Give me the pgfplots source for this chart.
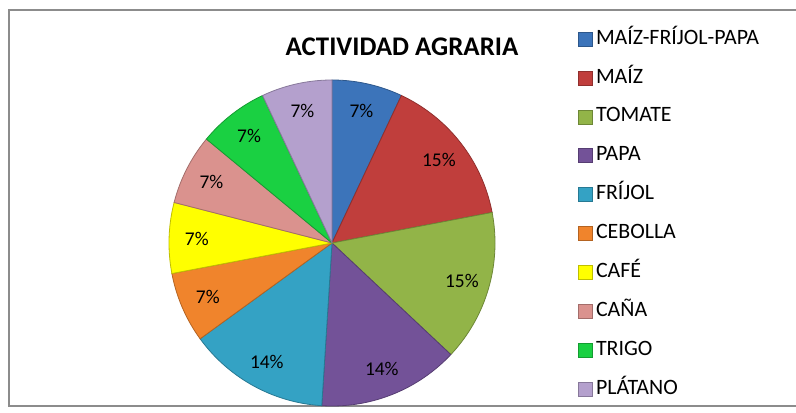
\documentclass[border=0pt]{standalone}
\usepackage{fontspec}
\setmainfont{Carlito}
\usepackage{pgfplots}
\usepackage{pgfplotstable}
\pgfplotsset{compat=1.18}
\definecolor{c0}{RGB}{60,116,186}
\definecolor{c1}{RGB}{192,62,60}
\definecolor{c2}{RGB}{146,180,72}
\definecolor{c3}{RGB}{115,82,152}
\definecolor{c4}{RGB}{52,162,196}
\definecolor{c5}{RGB}{240,132,44}
\definecolor{c6}{RGB}{255,255,0}
\definecolor{c7}{RGB}{218,146,142}
\definecolor{c8}{RGB}{26,208,66}
\definecolor{c9}{RGB}{180,160,205}
\definecolor{framegray}{RGB}{140,140,140}
\pgfplotstableread{
crop value
MFP 7
MAIZ 15
TOMATE 15
PAPA 14
FRIJOL 14
CEBOLLA 7
CAFE 7
CANA 7
TRIGO 7
PLATANO 7
}\piedata

\begin{document}
\begin{tikzpicture}
\useasboundingbox (0,0) rectangle (796bp,413bp);
\fill[white] (0,0) rectangle (796bp,413bp);
\draw[line width=1.5bp, framegray] (9bp,7bp) rectangle (810bp,403bp);
\node[font=\bfseries\fontsize{27}{30}\selectfont] at (402bp,366bp) {ACTIVIDAD AGRARIA};
\begin{axis}[at={(332bp,170bp)}, anchor=center, scale only axis,
  width=326bp, height=326bp, xmin=-1, xmax=1, ymin=-1, ymax=1,
  hide axis, clip=false,
  legend image code/.code={\fill[#1] (0bp,-7bp) rectangle (14bp,7bp); \path (17bp,0bp);},
  legend style={at={(1.2546,1.1534)}, anchor=north west, draw=none, fill=none,
    inner sep=0pt, row sep=20.9bp, font=\fontsize{22}{25}\selectfont,
    cells={anchor=west},
    nodes={inner sep=0pt, text height=14bp, text depth=4bp}},
]
\pgfmathsetmacro{\cum}{0}
\pgfplotsforeachungrouped \i in {0,...,9}{%
  \pgfplotstablegetelem{\i}{value}\of\piedata
  \let\val\pgfplotsretval
  \pgfmathsetmacro{\a}{90-3.6*\cum}%
  \pgfmathsetmacro{\b}{90-3.6*(\cum+\val)}%
  \pgfmathsetmacro{\m}{(\a+\b)/2}%
  \pgfmathsetmacro{\lx}{0.83*cos(\m)}%
  \pgfmathsetmacro{\ly}{0.83*sin(\m)}%
  \edef\tmp{\noexpand\addplot[fill=c\i, draw=c\i!75!black, line width=0.8bp, domain=\b:\a, samples=60] ({cos(x)},{sin(x)}) -- (axis cs:0,0) -- cycle;}%
  \tmp
  \edef\tmp{\noexpand\node[font=\noexpand\fontsize{19.5}{22}\noexpand\selectfont] at (axis cs:\lx,\ly) {\val\noexpand\%};}%
  \tmp
  \pgfmathsetmacro{\cum}{\cum+\val}%
}
\legend{MAÍZ-FRÍJOL-PAPA, MAÍZ, TOMATE, PAPA, FRÍJOL, CEBOLLA, CAFÉ, CAÑA, TRIGO, PLÁTANO}
\end{axis}
\end{tikzpicture}
\end{document}
